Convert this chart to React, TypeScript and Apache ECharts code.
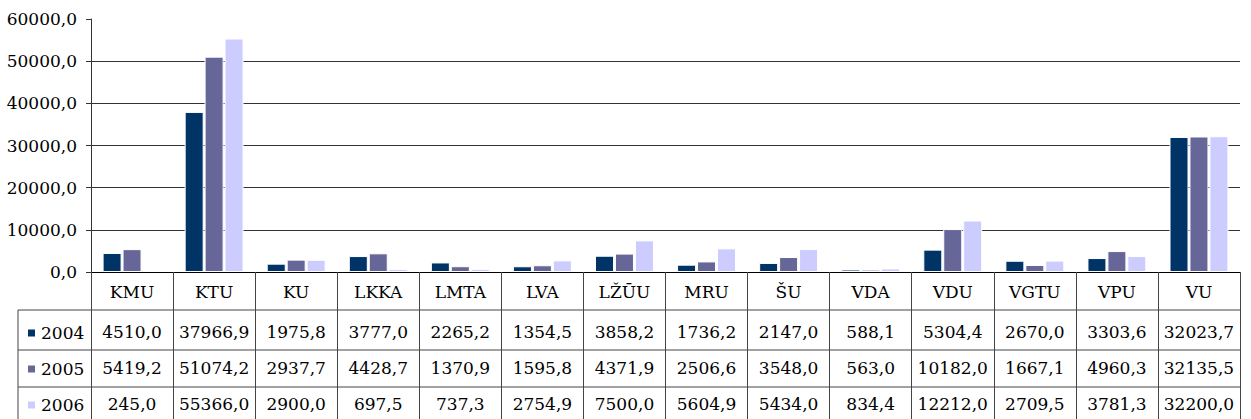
import React, { useEffect, useRef } from "react";
import * as echarts from "echarts";

const categories = ["KMU", "KTU", "KU", "LKKA", "LMTA", "LVA", "LŽŪU", "MRU", "ŠU", "VDA", "VDU", "VGTU", "VPU", "VU"];
const years = ["2004", "2005", "2006"];
const values2004 = [4510.0, 37966.9, 1975.8, 3777.0, 2265.2, 1354.5, 3858.2, 1736.2, 2147.0, 588.1, 5304.4, 2670.0, 3303.6, 32023.7];
const values2005 = [5419.2, 51074.2, 2937.7, 4428.7, 1370.9, 1595.8, 4371.9, 2506.6, 3548.0, 563.0, 10182.0, 1667.1, 4960.3, 32135.5];
const values2006 = [245.0, 55366.0, 2900.0, 697.5, 737.3, 2754.9, 7500.0, 5604.9, 5434.0, 834.4, 12212.0, 2709.5, 3781.3, 32200.0];
const colors = ["#003366", "#666699", "#CCCCFF"];

const FONT = "DejaVu Serif";
const FS = 17;
const fmt = (v: number) => v.toFixed(1).replace(".", ",");

export default function App() {
  const ref = useRef<HTMLDivElement>(null);
  useEffect(() => {
    document.body.style.margin = "0";
    if (!ref.current) return;
    const chart = echarts.init(ref.current, undefined, { renderer: "svg" });
    const W = 1251;
    const gridLeft = 91;
    const gridRight = 11;
    const gridTop = 19;
    const axisY = 272;
    const rowLines = [310, 350, 387];
    const tableLeft = 18;
    const tableRight = W - gridRight;
    const lineColor = "#444";
    const seriesValues = [values2004, values2005, values2006];
    const graphic: any[] = rowLines.map((y) => ({
      type: "line",
      shape: { x1: tableLeft, y1: y, x2: tableRight, y2: y },
      style: { stroke: lineColor, lineWidth: 1 },
      silent: true,
    }));
    graphic.push({
      type: "line",
      shape: { x1: tableLeft, y1: rowLines[0], x2: tableLeft, y2: 419 },
      style: { stroke: lineColor, lineWidth: 1 },
      silent: true,
    });
    chart.setOption({
      animation: false,
      textStyle: { fontFamily: FONT },
      grid: { left: gridLeft, right: gridRight, top: gridTop, bottom: 419 - axisY, containLabel: false },
      legend: {
        orient: "vertical",
        left: 26,
        top: 323,
        padding: 0,
        itemGap: 16,
        itemWidth: 9,
        itemHeight: 9,
        icon: "rect",
        data: years,
        textStyle: { fontFamily: FONT, fontSize: FS, lineHeight: 20, color: "#000" },
        selectedMode: false,
      },
      xAxis: {
        type: "category",
        data: categories,
        boundaryGap: true,
        axisLine: { show: true, lineStyle: { color: "#000", width: 1 } },
        axisTick: { show: true, interval: 0, length: 419 - axisY, lineStyle: { color: lineColor } },
        splitLine: { show: false },
        axisLabel: {
          interval: 0,
          margin: -2,
          verticalAlign: "top",
          fontFamily: FONT,
          formatter: (value: string, idx: number) =>
            `{h|${value}}\n{v|${fmt(values2004[idx])}}\n{v|${fmt(values2005[idx])}}\n{v|${fmt(values2006[idx])}}`,
          rich: {
            h: { fontFamily: FONT, fontSize: FS, lineHeight: 44, color: "#000" },
            v: { fontFamily: FONT, fontSize: FS, lineHeight: 36, color: "#000" },
          },
        },
      },
      yAxis: {
        type: "value",
        min: 0,
        max: 60000,
        interval: 10000,
        axisLine: { show: true, lineStyle: { color: "#333", width: 1 } },
        axisTick: { show: true, length: 5, lineStyle: { color: "#333" } },
        axisLabel: { formatter: (v: number) => fmt(v), fontFamily: FONT, fontSize: FS, color: "#000", margin: 14 },
        splitLine: {
          show: true,
          lineStyle: { color: ["#000", "#333", "#333", "#333", "#333", "#333", "transparent"], width: 1 },
        },
      },
      series: years.map((y, i) => ({
        name: y,
        type: "bar",
        data: seriesValues[i],
        barWidth: 19,
        barGap: "5%",
        itemStyle: { color: colors[i], borderColor: "#fff", borderWidth: 1 },
      })),
      graphic,
    });
    return () => chart.dispose();
  }, []);
  return <div ref={ref} style={{ width: 1251, height: 419 }} />;
}
